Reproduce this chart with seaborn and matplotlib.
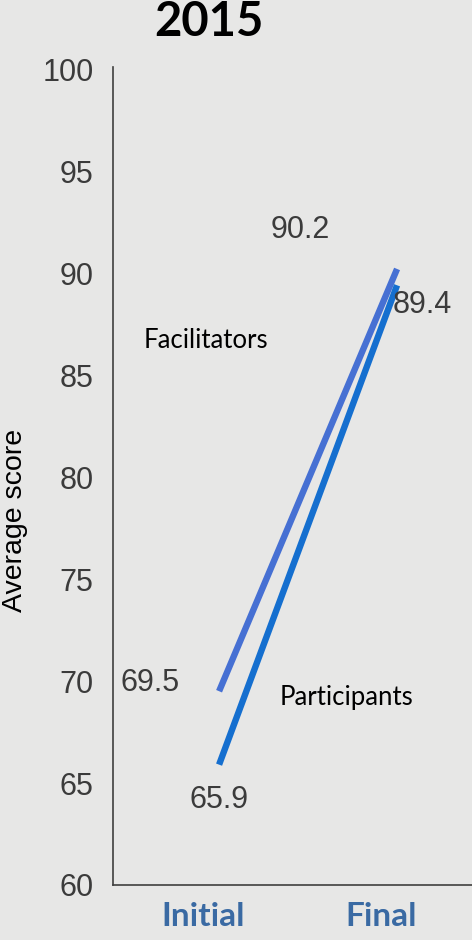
import matplotlib
matplotlib.use("Agg")
import matplotlib.pyplot as plt
import matplotlib.transforms as mtransforms
import seaborn as sns
import pandas as pd

# ---- data ----
stages = ["Initial", "Final"]
groups = ["Facilitators", "Participants"]
facilitators = [69.5, 90.2]
participants = [65.9, 89.4]
y_ticks = [60, 65, 70, 75, 80, 85, 90, 95, 100]
title = "2015"
y_label = "Average score"

colors = {"Facilitators": "#4670d3", "Participants": "#156fcf"}
bg = "#e7e7e6"

rows = []
for g, vals in zip(groups, [facilitators, participants]):
    for i, (s, v) in enumerate(zip(stages, vals)):
        rows.append({"group": g, "stage": s, "pos": i, "score": v})
df = pd.DataFrame(rows)

sns.set_style("white")
plt.rcParams["font.family"] = ["Liberation Sans", "DejaVu Sans"]

W, H = 472, 940
fig = plt.figure(figsize=(W / 100, H / 100), dpi=100, facecolor=bg)
ax = fig.add_axes([113 / W, 1 - 885 / H, (W - 113) / W, (885 - 67) / H])
ax.set_facecolor(bg)

sns.lineplot(data=df, x="pos", y="score", hue="group", palette=colors,
             linewidth=4.6, legend=False, ax=ax, solid_capstyle="butt")

ax.set_ylim(60, 100.1)
ax.set_xlim(-0.596, 1.421)
ax.set_yticks(y_ticks)
ax.set_yticklabels([str(t) for t in y_ticks], fontsize=22, color="#3b3b3b")
ax.tick_params(axis="y", length=0, pad=14)

ax.set_xticks(range(len(stages)))
ax.set_xticklabels(stages, fontsize=24, fontweight="bold", color="#3a6aa3",
                   family=["Lato", "DejaVu Sans"])
ax.tick_params(axis="x", length=0, pad=12)
shift = mtransforms.ScaledTranslation(-16 / 100, 0, fig.dpi_scale_trans)
for lbl in ax.get_xticklabels():
    lbl.set_transform(lbl.get_transform() + shift)

ax.set_xlabel("")
ax.set_ylabel(y_label, fontsize=20.5, color="black",
              family=["Liberation Sans", "DejaVu Sans"])
ax.yaxis.set_label_coords((28 - 113) / (W - 113), (885 - 520) / (885 - 67))

for side in ["top", "right"]:
    ax.spines[side].set_visible(False)
for side in ["left", "bottom"]:
    ax.spines[side].set_color("#3f3f3f")
    ax.spines[side].set_linewidth(1.2)

# value labels next to each end point
label_offsets = {
    ("Facilitators", 0): (-69, 8),
    ("Facilitators", 1): (-97, 39),
    ("Participants", 0): (0, -35),
    ("Participants", 1): (25, -20),
}
for _, r in df.iterrows():
    dx, dy = label_offsets[(r["group"], r["pos"])]
    ax.annotate(f"{r['score']:.1f}", xy=(r["pos"], r["score"]),
                xytext=(dx, dy), textcoords="offset pixels",
                ha="center", va="center", fontsize=22, color="#3b3b3b")

# series names
ax.annotate("Facilitators", xy=(93, 544), xycoords="axes pixels",
            ha="center", va="center", fontsize=18.5, color="black",
            family=["Lato", "DejaVu Sans"])
ax.annotate("Participants", xy=(233, 188), xycoords="axes pixels",
            ha="center", va="center", fontsize=18.5, color="black",
            family=["Lato", "DejaVu Sans"])

fig.text(209 / W, 1 - 22 / H, title, ha="center", va="center",
         fontsize=34, fontweight="bold", color="black",
         family=["Lato", "DejaVu Sans"])

fig.savefig("out.png", dpi=100, facecolor=bg)
